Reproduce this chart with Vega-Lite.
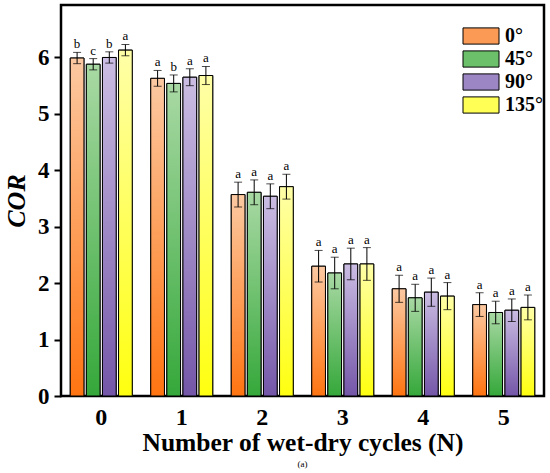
{
  "$schema": "https://vega.github.io/schema/vega-lite/v6.json",
  "width": 483,
  "height": 391,
  "autosize": {"type": "none"},
  "padding": {"left": 61, "top": 5, "right": 6, "bottom": 77},
  "background": "white",
  "config": {
    "font": "Liberation Serif",
    "view": {"stroke": "black", "strokeWidth": 2.5},
    "axis": {"domainColor": "black", "tickColor": "black", "labelColor": "black", "titleColor": "black"}
  },
  "title": {"text": "(a)", "orient": "bottom", "fontSize": 9, "font": "Liberation Serif", "fontWeight": "normal", "offset": 4, "color": "black"},
  "data": {
    "values": [
      {"N": "0", "angle": "0°", "cor": 5.99, "err": 0.1, "sig": "b"},
      {"N": "0", "angle": "45°", "cor": 5.88, "err": 0.1, "sig": "c"},
      {"N": "0", "angle": "90°", "cor": 6.0, "err": 0.1, "sig": "b"},
      {"N": "0", "angle": "135°", "cor": 6.13, "err": 0.1, "sig": "a"},
      {"N": "1", "angle": "0°", "cor": 5.63, "err": 0.14, "sig": "a"},
      {"N": "1", "angle": "45°", "cor": 5.54, "err": 0.15, "sig": "b"},
      {"N": "1", "angle": "90°", "cor": 5.65, "err": 0.15, "sig": "a"},
      {"N": "1", "angle": "135°", "cor": 5.68, "err": 0.16, "sig": "a"},
      {"N": "2", "angle": "0°", "cor": 3.57, "err": 0.22, "sig": "a"},
      {"N": "2", "angle": "45°", "cor": 3.61, "err": 0.22, "sig": "a"},
      {"N": "2", "angle": "90°", "cor": 3.54, "err": 0.22, "sig": "a"},
      {"N": "2", "angle": "135°", "cor": 3.71, "err": 0.22, "sig": "a"},
      {"N": "3", "angle": "0°", "cor": 2.3, "err": 0.28, "sig": "a"},
      {"N": "3", "angle": "45°", "cor": 2.18, "err": 0.28, "sig": "a"},
      {"N": "3", "angle": "90°", "cor": 2.34, "err": 0.28, "sig": "a"},
      {"N": "3", "angle": "135°", "cor": 2.34, "err": 0.29, "sig": "a"},
      {"N": "4", "angle": "0°", "cor": 1.9, "err": 0.24, "sig": "a"},
      {"N": "4", "angle": "45°", "cor": 1.74, "err": 0.24, "sig": "a"},
      {"N": "4", "angle": "90°", "cor": 1.84, "err": 0.25, "sig": "a"},
      {"N": "4", "angle": "135°", "cor": 1.77, "err": 0.24, "sig": "a"},
      {"N": "5", "angle": "0°", "cor": 1.62, "err": 0.21, "sig": "a"},
      {"N": "5", "angle": "45°", "cor": 1.48, "err": 0.2, "sig": "a"},
      {"N": "5", "angle": "90°", "cor": 1.52, "err": 0.2, "sig": "a"},
      {"N": "5", "angle": "135°", "cor": 1.57, "err": 0.22, "sig": "a"}
    ]
  },
  "transform": [
    {"calculate": "datum.cor - datum.err", "as": "lo"},
    {"calculate": "datum.cor + datum.err", "as": "hi"}
  ],
  "encoding": {
    "x": {
      "field": "N", "type": "nominal",
      "scale": {"paddingInner": 0.23, "paddingOuter": 0.115},
      "axis": {"title": "Number of wet-dry cycles (N)", "labelFont": "Liberation Serif", "titleFont": "Liberation Serif", "labelAngle": 0, "labelFontSize": 24, "labelFontWeight": "bold", "titleFontSize": 25.5, "titleFontWeight": "bold", "ticks": false, "domain": false, "labelPadding": 9, "titlePadding": 1}
    },
    "xOffset": {"field": "angle", "type": "nominal", "scale": {"domain": ["0°", "45°", "90°", "135°"], "paddingInner": 0.15, "paddingOuter": 0}}
  },
  "layer": [
    {
      "mark": {"type": "bar", "stroke": "black", "strokeWidth": 1},
      "encoding": {
        "y": {
          "field": "cor", "type": "quantitative",
          "scale": {"domain": [0, 6.93], "nice": false},
          "axis": {
            "title": "COR", "labelFont": "Liberation Serif", "titleFont": "Liberation Serif",
            "titleFontSize": 26, "titleFontWeight": "bold", "titleFontStyle": "italic", "titlePadding": 8,
            "labelFontSize": 23, "labelFontWeight": "bold",
            "values": [0, 0.5, 1, 1.5, 2, 2.5, 3, 3.5, 4, 4.5, 5, 5.5, 6, 6.5],
            "labelExpr": "datum.value % 1 == 0 ? format(datum.value, 'd') : ''",
            "tickSize": {"condition": {"test": "datum.value % 1 == 0", "value": 7}, "value": 4},
            "tickWidth": 2, "domain": false, "grid": false, "labelPadding": 5
          }
        },
        "color": {
          "field": "angle", "type": "nominal",
          "scale": {"domain": ["0°", "45°", "90°", "135°"], "range": ["#fb9a55", "#6cc06a", "#9d86c4", "#ffff55"]},
          "legend": {"title": null, "orient": "none", "legendX": 410, "legendY": 21, "labelFont": "Liberation Serif", "symbolType": "M-2,-0.9H2V0.9H-2Z", "symbolSize": 324, "symbolStrokeColor": "black", "symbolStrokeWidth": 1, "symbolOpacity": 1, "labelFontSize": 20, "labelFontWeight": "bold", "labelColor": "black", "rowPadding": 1, "labelOffset": 14}
        }
      }
    },
    {
      "transform": [{"filter": "datum.angle == '0°'"}],
      "mark": {"type": "bar", "stroke": "black", "strokeWidth": 1, "fill": {"gradient": "linear", "x1": 0, "y1": 0, "x2": 0, "y2": 1, "stops": [{"offset": 0, "color": "#fcc9a2"}, {"offset": 1, "color": "#ff7411"}]}},
      "encoding": {"y": {"field": "cor", "type": "quantitative"}}
    },
    {
      "transform": [{"filter": "datum.angle == '45°'"}],
      "mark": {"type": "bar", "stroke": "black", "strokeWidth": 1, "fill": {"gradient": "linear", "x1": 0, "y1": 0, "x2": 0, "y2": 1, "stops": [{"offset": 0, "color": "#a9d9a4"}, {"offset": 1, "color": "#35a83a"}]}},
      "encoding": {"y": {"field": "cor", "type": "quantitative"}}
    },
    {
      "transform": [{"filter": "datum.angle == '90°'"}],
      "mark": {"type": "bar", "stroke": "black", "strokeWidth": 1, "fill": {"gradient": "linear", "x1": 0, "y1": 0, "x2": 0, "y2": 1, "stops": [{"offset": 0, "color": "#cbbde3"}, {"offset": 1, "color": "#7456a8"}]}},
      "encoding": {"y": {"field": "cor", "type": "quantitative"}}
    },
    {
      "transform": [{"filter": "datum.angle == '135°'"}],
      "mark": {"type": "bar", "stroke": "black", "strokeWidth": 1, "fill": {"gradient": "linear", "x1": 0, "y1": 0, "x2": 0, "y2": 1, "stops": [{"offset": 0, "color": "#ffffa8"}, {"offset": 1, "color": "#ffff10"}]}},
      "encoding": {"y": {"field": "cor", "type": "quantitative"}}
    },
    {
      "mark": {"type": "rule", "color": "black", "strokeWidth": 1},
      "encoding": {"y": {"field": "lo", "type": "quantitative"}, "y2": {"field": "hi"}}
    },
    {
      "mark": {"type": "tick", "color": "black", "thickness": 1, "size": 8, "orient": "horizontal"},
      "encoding": {"y": {"field": "lo", "type": "quantitative"}}
    },
    {
      "mark": {"type": "tick", "color": "black", "thickness": 1, "size": 8, "orient": "horizontal"},
      "encoding": {"y": {"field": "hi", "type": "quantitative"}}
    },
    {
      "mark": {"type": "text", "baseline": "bottom", "dy": -1, "fontSize": 13, "color": "black", "font": "Liberation Serif"},
      "encoding": {"y": {"field": "hi", "type": "quantitative"}, "text": {"field": "sig"}}
    }
  ]
}
